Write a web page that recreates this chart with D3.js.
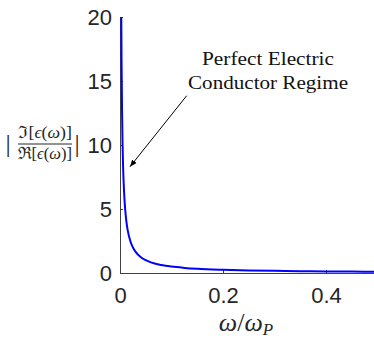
<!DOCTYPE html>
<html>
<head>
<meta charset="utf-8">
<script src="https://cdn.jsdelivr.net/npm/d3@7"></script>
<style>
  html, body { margin: 0; padding: 0; background: #fff; }
  svg { display: block; }
</style>
</head>
<body>
<svg id="chart" width="374" height="343"></svg>
<script>
// Normalised frequency omega / omega_P
const omega = [0.0025, 0.003, 0.004, 0.005, 0.006, 0.008, 0.01, 0.0125, 0.015, 0.02,
  0.025, 0.03, 0.04, 0.05, 0.06, 0.08, 0.1, 0.125, 0.15, 0.2,
  0.25, 0.3, 0.35, 0.4, 0.45, 0.5];
// |Im[eps] / Re[eps]| loss ratio
const ratio = [20, 16.7, 12.5, 10, 8.3, 6.25, 5, 4, 3.33, 2.5,
  2.0, 1.67, 1.25, 1.0, 0.83, 0.63, 0.5, 0.4, 0.33, 0.25,
  0.2, 0.17, 0.14, 0.125, 0.11, 0.1];
const xTicks = [0, 0.2, 0.4];
const xTickLabels = ["0", "0.2", "0.4"];
const yTicks = [0, 5, 10, 15, 20];
const annotation = ["Perfect Electric", "Conductor Regime"];

const svg = d3.select("#chart");
const plotLeft = 120, plotRight = 377.5, plotTop = 17, plotBottom = 273;

const x = d3.scaleLinear().domain([0, 0.5]).range([plotLeft, plotRight]);
const y = d3.scaleLinear().domain([0, 20]).range([plotBottom, plotTop]);

const axisColor = "#404040";
const tickFont = "'Liberation Sans', Arial, sans-serif";
const serif = "'Liberation Serif', 'DejaVu Serif', serif";

svg.append("defs").append("clipPath").attr("id", "plotClip")
  .append("rect").attr("x", plotLeft).attr("y", plotTop - 1)
  .attr("width", plotRight - plotLeft).attr("height", plotBottom - plotTop + 1);

// Bottom axis, ticks pointing inward
const gx = svg.append("g").attr("transform", `translate(0,${plotBottom})`)
  .call(d3.axisBottom(x).tickValues(xTicks).tickSize(0).tickPadding(14)
    .tickFormat((d, i) => xTickLabels[i]));
gx.select(".domain").attr("stroke", axisColor).attr("stroke-width", 1);
gx.selectAll(".tick").append("line").attr("y2", -3).attr("stroke", axisColor);
gx.selectAll("text").attr("font-family", tickFont).attr("font-size", 22)
  .attr("fill", "#262626");

// Left axis
const gy = svg.append("g").attr("transform", `translate(${plotLeft},0)`)
  .call(d3.axisLeft(y).tickValues(yTicks).tickSize(0).tickPadding(8));
gy.select(".domain").attr("stroke", axisColor).attr("stroke-width", 1);
gy.selectAll(".tick").append("line").attr("x2", 3).attr("stroke", axisColor);
gy.selectAll("text").attr("font-family", tickFont).attr("font-size", 22)
  .attr("fill", "#262626");

// Loss ratio curve
const pts = omega.map((w, i) => [w, ratio[i]]);
svg.append("path")
  .datum(pts)
  .attr("clip-path", "url(#plotClip)")
  .attr("fill", "none")
  .attr("stroke", "#0000ff")
  .attr("stroke-width", 2)
  .attr("d", d3.line().x(d => x(d[0])).y(d => y(d[1])).curve(d3.curveMonotoneX));

// Y label: |Im[eps(w)] / Re[eps(w)]|
const yl = svg.append("g").attr("font-family", serif).attr("fill", "#262626");
yl.append("text").attr("x", 8).attr("y", 152).attr("font-size", 26)
  .attr("text-anchor", "middle").text("|");
yl.append("text").attr("x", 77).attr("y", 152).attr("font-size", 26)
  .attr("text-anchor", "middle").text("|");
yl.append("text").attr("x", 18).attr("y", 138).attr("font-size", 17)
  .attr("textLength", 54).attr("lengthAdjust", "spacingAndGlyphs")
  .html("ℑ[<tspan font-style='italic'>ϵ</tspan>(<tspan font-style='italic'>ω</tspan>)]");
yl.append("line").attr("x1", 18).attr("x2", 72).attr("y1", 144).attr("y2", 144)
  .attr("stroke", "#262626").attr("stroke-width", 1);
yl.append("text").attr("x", 18).attr("y", 159).attr("font-size", 17)
  .attr("textLength", 54).attr("lengthAdjust", "spacingAndGlyphs")
  .html("ℜ[<tspan font-style='italic'>ϵ</tspan>(<tspan font-style='italic'>ω</tspan>)]");

// X label: omega / omega_P
const xl = svg.append("text").attr("x", 246).attr("y", 331)
  .attr("font-family", serif).attr("font-size", 26).attr("fill", "#262626")
  .attr("text-anchor", "middle");
xl.append("tspan").attr("font-style", "italic").text("ω");
xl.append("tspan").text("/");
xl.append("tspan").attr("font-style", "italic").text("ω");
xl.append("tspan").attr("font-style", "italic").attr("font-size", 17).attr("dy", 4).text("P");

// Annotation
const ann = svg.append("g").attr("font-family", serif)
  .attr("font-size", 19).attr("fill", "#111").attr("text-anchor", "middle");
ann.append("text").attr("x", 268).attr("y", 65).attr("textLength", 132)
  .attr("lengthAdjust", "spacingAndGlyphs").text(annotation[0]);
ann.append("text").attr("x", 268).attr("y", 89).attr("textLength", 160)
  .attr("lengthAdjust", "spacingAndGlyphs").text(annotation[1]);

// Arrow
svg.append("defs").append("marker").attr("id", "head")
  .attr("viewBox", "0 0 10 10").attr("refX", 10).attr("refY", 5)
  .attr("markerWidth", 7).attr("markerHeight", 7).attr("orient", "auto")
  .append("path").attr("d", "M0,1 L10,5 L0,9 Z").attr("fill", "#000");
svg.append("line").attr("x1", 186.7).attr("y1", 95.7).attr("x2", 130).attr("y2", 166.7)
  .attr("stroke", "#000").attr("stroke-width", 1).attr("marker-end", "url(#head)");
</script>
</body>
</html>
